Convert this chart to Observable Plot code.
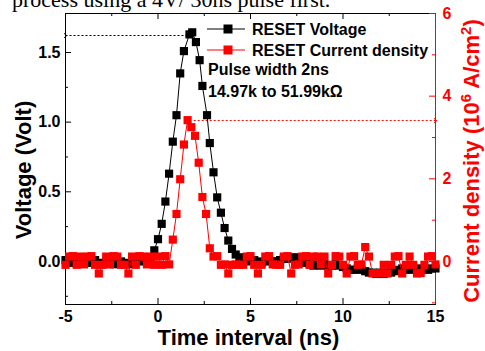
<!DOCTYPE html>
<html><head><meta charset="utf-8">
<script src="https://cdn.jsdelivr.net/npm/d3@7"></script>
<script src="https://cdn.jsdelivr.net/npm/@observablehq/plot@0.6"></script>
<style>
html,body{margin:0;padding:0;background:#fff;overflow:hidden}
#chart{position:relative;width:485px;height:351px}
</style></head><body><div id="chart"></div>
<script>
// ---- data ----
const voltTime = [-5.0,-4.8,-4.6,-4.4,-4.2,-4.0,-3.8,-3.6,-3.4,-3.2,-3.0,-2.8,-2.6,-2.4,-2.2,-2.0,-1.8,-1.6,-1.4,-1.2,-1.0,-0.8,-0.6,-0.4,-0.2,0.0,0.2,0.4,0.6,0.8,1.0,1.2,1.4,1.7,1.85,2.05,2.25,2.4,2.65,2.8,3.0,3.2,3.4,3.6,3.8,4.0,4.2,4.4,4.6,4.8,5.0,5.2,5.4,5.6,5.8,6.0,6.2,6.4,6.6,6.8,7.0,7.2,7.4,7.6,7.8,8.0,8.2,8.4,8.6,8.8,9.0,9.2,9.4,9.6,9.8,10.0,10.2,10.4,10.6,10.8,11.0,11.2,11.4,11.6,11.8,12.0,12.2,12.4,12.6,12.8,13.0,13.2,13.4,13.6,13.8,14.0,14.2,14.4,14.6,14.8,15.0];
const voltValue = [0.01,0.0,-0.01,0.01,0.0,-0.01,0.0,-0.01,0.01,-0.01,-0.02,0.0,-0.01,-0.02,-0.01,0.0,-0.01,-0.02,-0.01,0.0,0.0,0.01,0.02,0.02,0.08,0.16,0.27,0.43,0.63,0.86,1.05,1.35,1.51,1.63,1.645,1.575,1.445,1.26,1.05,0.85,0.64,0.46,0.35,0.24,0.15,0.09,0.05,0.03,0.02,0.01,0.0,0.01,0.0,-0.01,0.0,0.01,0.0,0.0,0.01,0.02,0.02,0.03,0.02,0.03,0.0,-0.01,-0.02,-0.03,-0.02,-0.03,-0.02,-0.03,-0.03,-0.02,-0.03,-0.04,-0.05,-0.06,-0.06,-0.05,-0.06,-0.07,-0.08,-0.08,-0.09,-0.08,-0.09,-0.08,-0.08,-0.07,-0.06,-0.05,-0.06,-0.05,-0.06,-0.05,-0.06,-0.05,-0.06,-0.05,-0.05];
const currTime = [-5.0,-4.8,-4.6,-4.4,-4.2,-4.0,-3.8,-3.6,-3.4,-3.2,-3.0,-2.8,-2.6,-2.4,-2.2,-2.0,-1.8,-1.6,-1.4,-1.2,-1.0,-0.8,-0.6,-0.4,-0.2,0.0,0.2,0.4,0.6,0.8,1.0,1.2,1.4,1.6,1.8,2.0,2.2,2.4,2.6,2.8,3.0,3.2,3.4,3.6,3.8,4.0,4.2,4.4,4.6,4.8,5.0,5.2,5.4,5.6,5.8,6.0,6.2,6.4,6.6,6.8,7.0,7.2,7.4,7.6,7.8,8.0,8.2,8.4,8.6,8.8,9.0,9.2,9.4,9.6,9.8,10.0,10.2,10.4,10.6,10.8,11.0,11.2,11.4,11.6,11.8,12.0,12.2,12.4,12.6,12.8,13.0,13.2,13.4,13.6,13.8,14.0,14.2,14.4,14.6,14.8,15.0];
const currValue = [-0.08,0.12,0.13,-0.08,0.12,-0.07,0.12,0.13,-0.08,-0.29,-0.08,0.12,-0.07,0.13,0.12,-0.08,-0.08,-0.29,0.12,-0.08,0.13,0.12,-0.07,0.12,-0.08,0.12,-0.08,0.13,-0.07,0.53,1.15,1.99,2.83,3.42,3.25,3.04,2.39,1.56,1.15,0.32,0.12,0.13,-0.08,-0.07,-0.29,-0.08,-0.07,-0.08,-0.08,0.12,0.13,-0.08,-0.29,-0.08,0.12,0.13,-0.07,-0.08,-0.08,0.12,0.13,-0.29,-0.08,-0.07,0.12,0.13,-0.08,0.12,0.12,-0.07,0.12,-0.29,-0.08,0.13,0.12,-0.08,-0.29,0.12,0.13,-0.08,-0.07,0.35,0.12,-0.29,-0.28,-0.29,-0.08,-0.29,-0.08,0.12,0.13,-0.29,-0.08,0.12,-0.08,-0.29,-0.28,-0.08,0.12,0.13,-0.07];
const seriesNames = ["RESET Voltage", "RESET Current density"];
const seriesColors = ["#000000", "#ff0000"];
const noteLines = ["Pulse width 2ns", "14.97k to 51.99k\u03A9"];
const peakVoltLine = [{x1: -5, x2: 1.65, y: 1.622}];
const peakCurrLine = [{x1: 1.93, x2: 15, y: 3.41}];
const xTicks = [-5, 0, 5, 10, 15];
const xMinor = [-2.5, 2.5, 7.5, 12.5];
const yTicks = [0, 0.5, 1.0, 1.5];
const yMinor = [-0.25, 0.25, 0.75, 1.25];
const y2Ticks = [0, 2, 4, 6];
const y2Minor = [-1, 1, 3, 5];
const xDomain = [-5, 15];
const yDomain = [-0.309, 1.78];
const y2Domain = [-1.04, 6];
const headText = "process using a 4V/ 30ns pulse first.";

// ---- chart ----
const W = 485, H = 351, mL = 65, mR = 50, mT = 13, mB = 47;
const pw = W - mL - mR, ph = H - mT - mB;
const jToV = d3.scaleLinear().domain(y2Domain).range(yDomain);
const volt = voltTime.map((t, i) => ({t, v: voltValue[i]}));
const curr = currTime.map((t, i) => ({t, v: jToV(currValue[i])}));
const font = "'Liberation Sans', Arial, sans-serif";
const red = seriesColors[1];

const chart = Plot.plot({
  width: W, height: H,
  marginLeft: mL, marginRight: mR, marginTop: mT, marginBottom: mB,
  x: {domain: xDomain},
  y: {domain: yDomain},
  style: {fontFamily: font, fontWeight: "bold", background: "white", overflow: "visible"},
  marks: [
    Plot.frame({stroke: "black"}),
    // ticks inward
    Plot.tickX(xTicks, {x: d => d, insetTop: ph - 6, stroke: "black"}),
    Plot.tickX(xMinor, {x: d => d, insetTop: ph - 3, stroke: "black"}),
    Plot.tickX(xTicks, {x: d => d, insetBottom: ph - 6, stroke: "black"}),
    Plot.tickX(xMinor, {x: d => d, insetBottom: ph - 3, stroke: "black"}),
    Plot.tickY(yTicks, {y: d => d, insetRight: pw - 6, stroke: "black"}),
    Plot.tickY(yMinor, {y: d => d, insetRight: pw - 3, stroke: "black"}),
    Plot.tickY(y2Ticks, {y: d => jToV(d), insetLeft: pw - 6, stroke: red}),
    Plot.tickY(y2Minor, {y: d => jToV(d), insetLeft: pw - 3, stroke: red}),
    Plot.ruleX([xDomain[1]], {stroke: red}),
    Plot.axisX(xTicks, {anchor: "bottom", tickSize: 0, tickPadding: 6, fontSize: 16, fontWeight: "bold", label: null, tickFormat: d => String(d)}),
    Plot.axisY(yTicks, {anchor: "left", tickSize: 0, tickPadding: 5, fontSize: 16, fontWeight: "bold", label: null, tickFormat: d => d.toFixed(1)}),
    Plot.axisY(y2Ticks.map(d => jToV(d)), {anchor: "right", tickSize: 0, tickPadding: 7, fontSize: 16, fontWeight: "bold", label: null, color: red, tickFormat: d => String(Math.round(jToV.invert(d)))}),
    // reference dotted lines
    Plot.link(peakVoltLine, {x1: "x1", x2: "x2", y1: "y", y2: "y", stroke: "black", strokeDasharray: "2,2", markerStart: "arrow"}),
    Plot.link(peakCurrLine, {x1: "x1", x2: "x2", y1: d => jToV(d.y), y2: d => jToV(d.y), stroke: red, strokeDasharray: "2,2", markerEnd: "arrow"}),
    // series
    Plot.line(volt, {x: "t", y: "v", stroke: seriesColors[0], strokeWidth: 1}),
    Plot.dot(volt, {x: "t", y: "v", symbol: "square", r: 4.6, fill: seriesColors[0], stroke: "none"}),
    Plot.line(curr, {x: "t", y: "v", stroke: red, strokeWidth: 1}),
    Plot.dot(curr, {x: "t", y: "v", symbol: "square", r: 4.6, fill: red, stroke: "none"})
  ]
});
document.getElementById("chart").appendChild(chart);

// ---- overlay texts: titles, legend, notes ----
const svg = d3.select(chart);
const g = svg.append("g").attr("font-family", font).attr("font-weight", "bold").attr("text-anchor", "start");
g.append("text").attr("x", 12).attr("y", 7).attr("font-family", "'Liberation Serif', 'Times New Roman', serif")
  .attr("font-weight", "normal").attr("font-size", 22).attr("fill", "black").text(headText);
g.append("text").attr("x", 248.5).attr("y", 345).attr("text-anchor", "middle").attr("font-size", 22).attr("fill", "black").text("Time interval (ns)");
g.append("text").attr("transform", "translate(31,170) rotate(-90)").attr("text-anchor", "middle").attr("font-size", 22).attr("fill", "black").text("Voltage (Volt)");
const rt = g.append("text").attr("transform", "translate(479,161) rotate(-90)").attr("text-anchor", "middle").attr("font-size", 22).attr("fill", red);
rt.append("tspan").text("Current density (10");
rt.append("tspan").attr("dy", -8).attr("font-size", 15).text("6");
rt.append("tspan").attr("dy", 8).text(" A/cm");
rt.append("tspan").attr("dy", -8).attr("font-size", 15).text("2");
rt.append("tspan").attr("dy", 8).text(")");
// legend
seriesNames.forEach((name, i) => {
  const cy = 29 + i * 21;
  g.append("line").attr("x1", 207).attr("x2", 245).attr("y1", cy).attr("y2", cy).attr("stroke", seriesColors[i]).attr("stroke-width", 1);
  g.append("rect").attr("x", 228 - 4.5).attr("y", cy - 4.5).attr("width", 9).attr("height", 9).attr("fill", seriesColors[i]);
  g.append("text").attr("x", 252).attr("y", cy + 5.7).attr("font-size", 16).attr("fill", "black").text(name);
});
noteLines.forEach((s, i) => {
  g.append("text").attr("x", 208).attr("y", 75 + i * 22).attr("font-size", 16).attr("fill", "black").text(s);
});
</script>
</body></html>
